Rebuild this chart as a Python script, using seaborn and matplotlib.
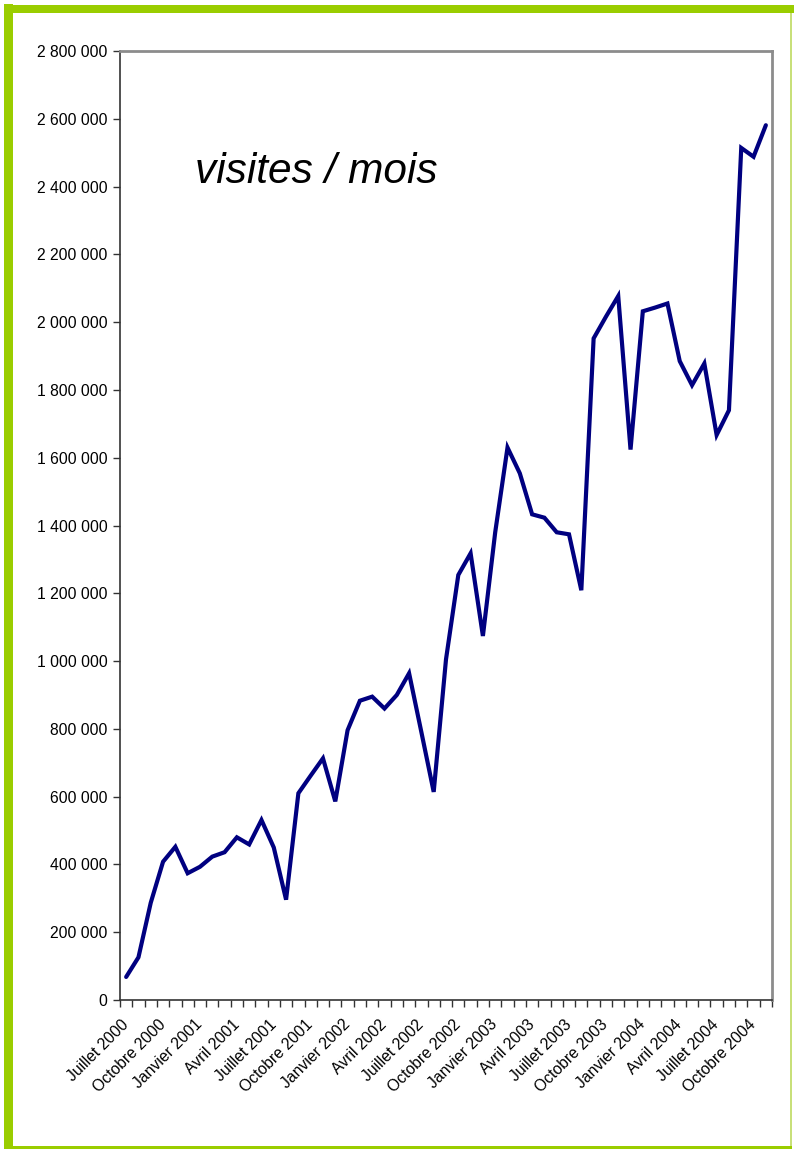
"""
Visites / mois — monthly site visits, July 2000 to November 2004.
"""

import numpy as np
import pandas as pd
import matplotlib
matplotlib.use("Agg")
import matplotlib.pyplot as plt
from matplotlib.patches import Rectangle
from matplotlib.ticker import FuncFormatter
import seaborn as sns

# Months Juillet 2000 .. Novembre 2004 (53 values)
month_names = ["Janvier", "Février", "Mars", "Avril", "Mai", "Juin",
               "Juillet", "Août", "Septembre", "Octobre", "Novembre", "Décembre"]
months = [f"{month_names[(6 + i) % 12]} {2000 + (6 + i) // 12}" for i in range(53)]

visites = [
    68000, 126000, 287000, 408000, 452000, 374000, 393000, 423000, 436000, 480000,
    459000, 531000, 450000, 296000, 610000, 662000, 713000, 586000, 796000, 883000,
    895000, 860000, 900000, 964000, 790000, 614000, 1005000, 1254000, 1318000, 1074000,
    1380000, 1630000, 1554000, 1433000, 1423000, 1380000, 1374000, 1209000, 1952000, 2016000,
    2077000, 1624000, 2032000, 2043000, 2055000, 1885000, 1814000, 1878000, 1667000, 1740000,
    2514000, 2488000, 2581000,
]

df = pd.DataFrame({"pos": np.arange(len(visites)), "mois": months, "visites": visites})

sns.set_style("white")
plt.rcParams["font.family"] = ["Liberation Sans", "DejaVu Sans"]
plt.rcParams["text.color"] = "black"
plt.rcParams["xtick.color"] = "black"
plt.rcParams["ytick.color"] = "black"

fig = plt.figure(figsize=(7.94, 11.49), dpi=100)
fig.patch.set_facecolor("white")

# green frame around the page
green = "#9ACD00"
fig.add_artist(Rectangle((4 / 794, 0), 9 / 794, 1145 / 1149, transform=fig.transFigure,
                         facecolor=green, edgecolor="none"))
fig.add_artist(Rectangle((4 / 794, 1136 / 1149), 790 / 794, 8 / 1149, transform=fig.transFigure,
                         facecolor=green, edgecolor="none"))
fig.add_artist(Rectangle((790 / 794, 0), 2 / 794, 1136 / 1149, transform=fig.transFigure,
                         facecolor="#C8E07A", edgecolor="none"))
fig.add_artist(Rectangle((4 / 794, 0), 788 / 794, 3 / 1149, transform=fig.transFigure,
                         facecolor=green, edgecolor="none"))

ax = fig.add_axes([120 / 794, 149 / 1149, 652 / 794, 949 / 1149])

sns.lineplot(data=df, x="pos", y="visites", color="#000080", linewidth=3,
             solid_joinstyle="miter", ax=ax)

ax.set_xlim(-0.5, len(visites) - 0.5)
ax.set_ylim(0, 2800000)
ax.set_xlabel("")
ax.set_ylabel("")

# y axis
ax.set_yticks(np.arange(0, 2800001, 200000))
ax.yaxis.set_major_formatter(FuncFormatter(lambda v, p: f"{int(v):,}".replace(",", " ")))
ax.tick_params(axis="y", direction="out", length=5, width=1, color="#333333",
               labelsize=11.3, pad=4, left=True)

# x axis: ticks between categories, labels every 3 months
ax.set_xticks(np.arange(-0.5, len(visites), 1), minor=True)
ax.set_xticks(df["pos"][::3])
ax.set_xticklabels(df["mois"][::3], rotation=45, ha="right", rotation_mode="anchor")
ax.tick_params(axis="x", which="major", length=0, labelsize=11.3, pad=16)
ax.tick_params(axis="x", which="minor", direction="out", length=5, width=1,
               color="#333333", bottom=True)
for lbl in ax.get_xticklabels():
    lbl.set_va("center")

for side in ["left", "bottom"]:
    ax.spines[side].set_color("#333333")
    ax.spines[side].set_linewidth(1.2)
for side in ["top", "right"]:
    ax.spines[side].set_color("#8c8c8c")
    ax.spines[side].set_linewidth(2)

ax.text(0.115, 0.872, "visites / mois", transform=ax.transAxes, fontsize=30.5,
        style="italic", ha="left", va="center", color="black")

fig.savefig("out.png", dpi=100, facecolor=fig.get_facecolor())
plt.close(fig)
